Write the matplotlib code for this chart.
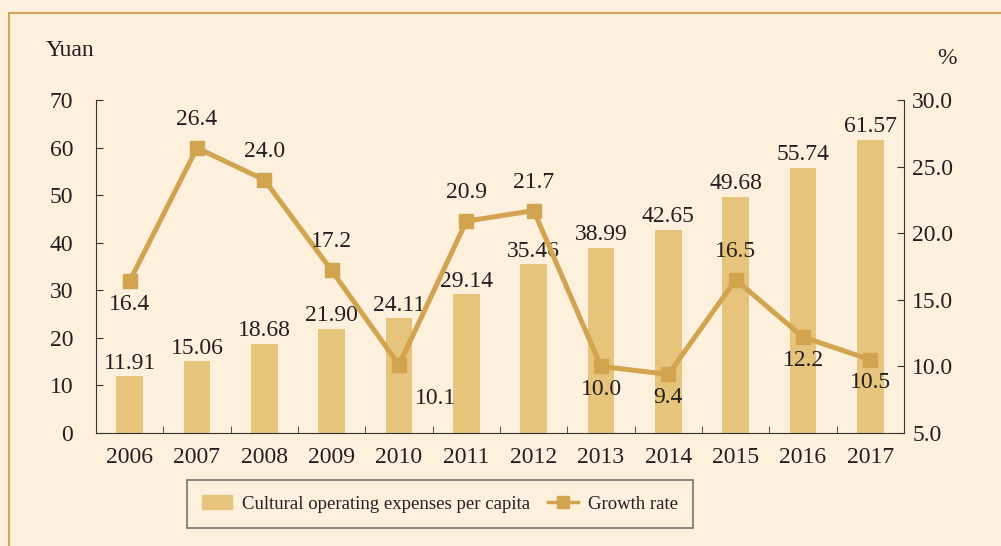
import matplotlib.pyplot as plt
from matplotlib.lines import Line2D
import numpy as np

years = ["2006", "2007", "2008", "2009", "2010", "2011", "2012", "2013", "2014", "2015", "2016", "2017"]
expenses = [11.91, 15.06, 18.68, 21.90, 24.11, 29.14, 35.46, 38.99, 42.65, 49.68, 55.74, 61.57]
growth = [16.4, 26.4, 24.0, 17.2, 10.1, 20.9, 21.7, 10.0, 9.4, 16.5, 12.2, 10.5]
# label placement for the growth line relative to the marker
growth_pos = ["below", "above", "above", "above", "right", "above", "above", "below", "below", "above", "below", "below"]

bg = "#FDF0DC"
bar_c = "#E6C47C"
line_c = "#D2A450"
txt = "#231F20"

plt.rcParams["font.family"] = ["Liberation Serif", "DejaVu Serif"]
plt.rcParams["font.size"] = 17

fig = plt.figure(figsize=(10.01, 5.46), dpi=100, facecolor=bg)
# frame lines (top and left visible)
fig.add_artist(Line2D([9 / 1001, 9 / 1001], [0, 1 - 13 / 546], color="#D4A55A", lw=1.5))
fig.add_artist(Line2D([9 / 1001, 1], [1 - 13 / 546, 1 - 13 / 546], color="#D4A55A", lw=1.5))

ax = fig.add_axes([96 / 1001, 1 - 433 / 546, (904 - 96) / 1001, (433 - 100) / 546])
ax.set_facecolor(bg)
x = np.arange(len(years))
ax.bar(x, expenses, width=0.4, color=bar_c, zorder=2)
ax.set_xlim(-0.5, len(years) - 0.5)
ax.set_ylim(0, 70)
ax.set_yticks(range(0, 71, 10))
ax.set_xticks(x)
ax.set_xticklabels(years)
ax.set_xticks(np.arange(-0.5, len(years), 1), minor=True)
ax.tick_params(axis="x", which="major", length=0, pad=10, colors=txt)
ax.tick_params(axis="x", which="minor", length=5, direction="in", color="#333333")
ax.tick_params(axis="y", direction="in", length=5, pad=16.5, colors=txt, color="#333333")
for s in ["top", "right"]:
    ax.spines[s].set_visible(False)
for s in ["left", "bottom"]:
    ax.spines[s].set_color("#333333")
for i, v in enumerate(expenses):
    ax.annotate(f"{v:.2f}", (i, v), xytext=(0, 2), textcoords="offset points",
                ha="center", va="bottom", color=txt)

ax2 = ax.twinx()
ax2.plot(x, growth, color=line_c, lw=3.6, marker="s", ms=10, zorder=3)
ax2.set_ylim(5, 30)
ax2.set_yticks(np.arange(5, 30.1, 5))
ax2.set_yticklabels([f"{v:.1f}" for v in np.arange(5, 30.1, 5)])
ax2.tick_params(axis="y", direction="in", length=5, pad=6, colors=txt, color="#333333")
for s in ["top", "left", "bottom"]:
    ax2.spines[s].set_visible(False)
ax2.spines["right"].set_color("#333333")
for i, v in enumerate(growth):
    p = growth_pos[i]
    if p == "above":
        ax2.annotate(f"{v:.1f}", (i, v), xytext=(0, 13), textcoords="offset points",
                     ha="center", va="bottom", color=txt)
    elif p == "below":
        ax2.annotate(f"{v:.1f}", (i, v), xytext=(0, -9), textcoords="offset points",
                     ha="center", va="top", color=txt)
    else:
        ax2.annotate(f"{v:.1f}", (i, v), xytext=(26, -24), textcoords="offset points",
                     ha="center", va="center", color=txt)

fig.text(70 / 1001, 1 - 51 / 546, "Yuan", ha="center", va="center", color=txt)
fig.text(947 / 1001, 1 - 58 / 546, "%", ha="center", va="center", color=txt)

handles = [plt.Rectangle((0, 0), 1, 1, color=bar_c),
           Line2D([], [], color=line_c, lw=2.5, marker="s", ms=8)]
leg = fig.legend(handles, ["Cultural operating expenses per capita", "Growth rate"],
                 loc="center", bbox_to_anchor=(440 / 1001, 1 - 504 / 546), ncol=2,
                 frameon=True, fancybox=False, edgecolor="#555555", facecolor=bg,
                 fontsize=13.5, handlelength=1.6, handletextpad=0.55,
                 columnspacing=0.9, borderpad=0.8, borderaxespad=0)
leg.get_frame().set_linewidth(1.2)
for t in leg.get_texts():
    t.set_color(txt)

fig.savefig("out.png", dpi=100, facecolor=bg)
